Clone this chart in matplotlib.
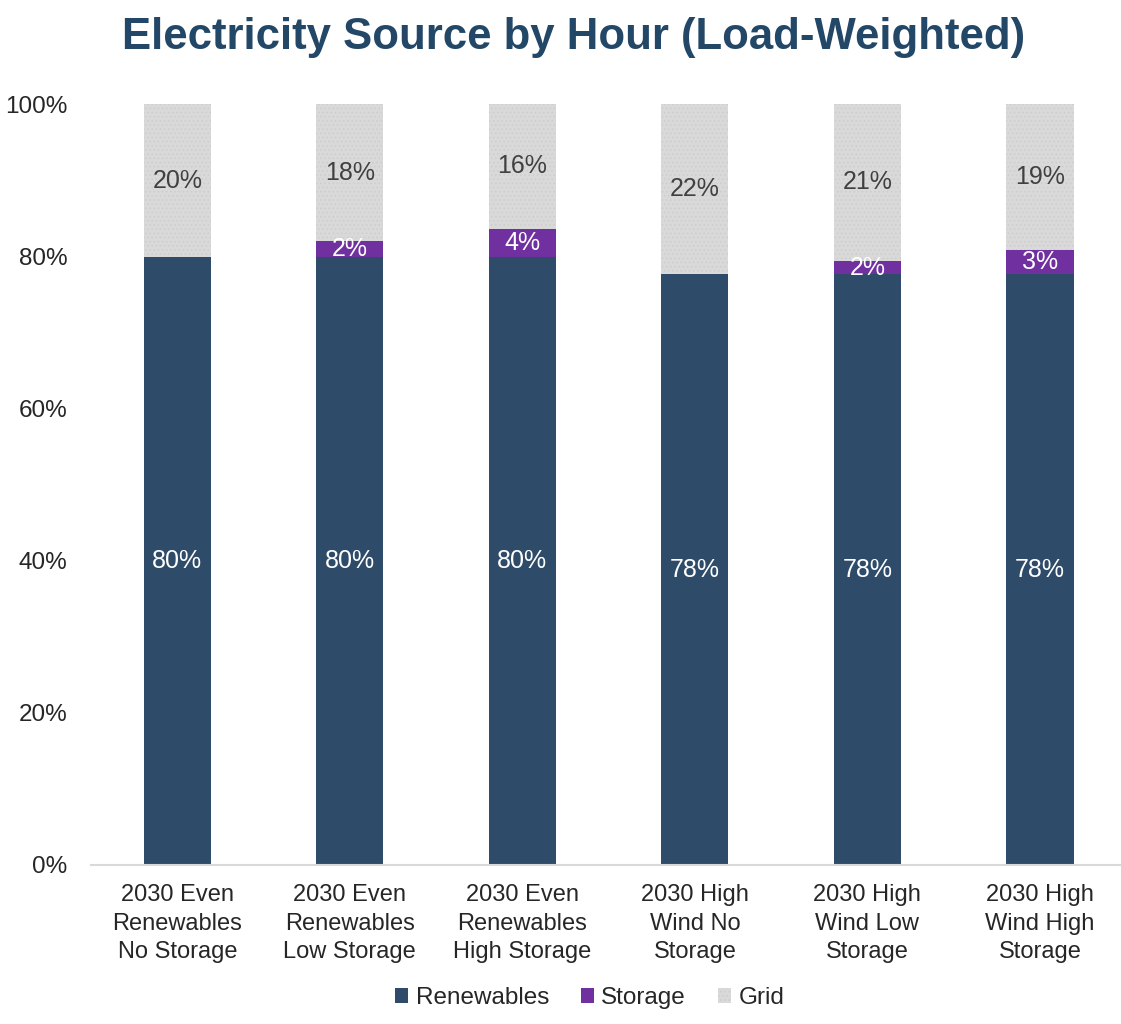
import numpy as np
import matplotlib
matplotlib.use('Agg')
import matplotlib.pyplot as plt

plt.rcParams['font.family'] = ['Liberation Sans', 'DejaVu Sans']
plt.rcParams['hatch.linewidth'] = 0.6

# data (percent of load)
categories = ["2030 Even\nRenewables\nNo Storage", "2030 Even\nRenewables\nLow Storage",
              "2030 Even\nRenewables\nHigh Storage", "2030 High\nWind No\nStorage",
              "2030 High\nWind Low\nStorage", "2030 High\nWind High\nStorage"]
renewables = [79.9, 79.9, 79.9, 77.6, 77.6, 77.6]
storage = [0.0, 2.1, 3.7, 0.0, 1.8, 3.2]
grid = [100 - r - s for r, s in zip(renewables, storage)]

C_REN = '#2E4B69'
C_STO = '#7030A0'
C_GRID = '#D9D9D9'

fig = plt.figure(figsize=(11.21, 10.24), dpi=100)
ax = fig.add_axes([91 / 1121, 0.1553, 1 - 91 / 1121, 0.7431])

x = np.arange(len(categories))
w = 0.39
ren = np.array(renewables)
sto = np.array(storage)
grd = np.array(grid)

ax.bar(x, ren, w, color=C_REN, label='Renewables', zorder=2)
ax.bar(x, sto, w, bottom=ren, color=C_STO, label='Storage', zorder=2)
ax.bar(x, grd, w, bottom=ren + sto, facecolor=C_GRID, edgecolor='#CDCDCD',
       hatch='....', linewidth=0, label='Grid', zorder=2)

for i in range(len(x)):
    ax.text(x[i], ren[i] / 2, f"{ren[i]:.0f}%", ha='center', va='center',
            color='white', fontsize=18)
    if sto[i] > 0:
        ax.text(x[i], ren[i] + sto[i] / 2, f"{sto[i]:.0f}%", ha='center', va='center',
                color='white', fontsize=18)
    ax.text(x[i], ren[i] + sto[i] + grd[i] / 2, f"{grd[i]:.0f}%", ha='center', va='center',
            color='#404040', fontsize=18)

ax.set_xlim(-0.5, 5.47)
ax.set_ylim(0, 100)
ax.set_yticks(np.arange(0, 101, 20))
ax.set_yticklabels([f"{v}%" for v in range(0, 101, 20)], fontsize=17.5, color='#262626')
ax.set_xticks(x)
ax.set_xticklabels(categories, fontsize=17, color='#262626', linespacing=1.38)
ax.tick_params(axis='both', length=0)
ax.tick_params(axis='y', pad=17)
ax.tick_params(axis='x', pad=14)
for s in ['top', 'right', 'left']:
    ax.spines[s].set_visible(False)
ax.spines['bottom'].set_color('#D9D9D9')
ax.spines['bottom'].set_linewidth(1.5)

fig.text(0.512, 0.963, "Electricity Source by Hour (Load-Weighted)", ha='center', va='center',
         fontsize=31.5, fontweight='bold', color='#234766')

leg = fig.legend(loc='center', bbox_to_anchor=(0.526, 0.025), ncol=3, frameon=False,
                 fontsize=17.5, handlelength=0.55, handleheight=0.55, handletextpad=0.3,
                 columnspacing=1.3, labelcolor='#262626')

fig.savefig('out.png', dpi=100)
